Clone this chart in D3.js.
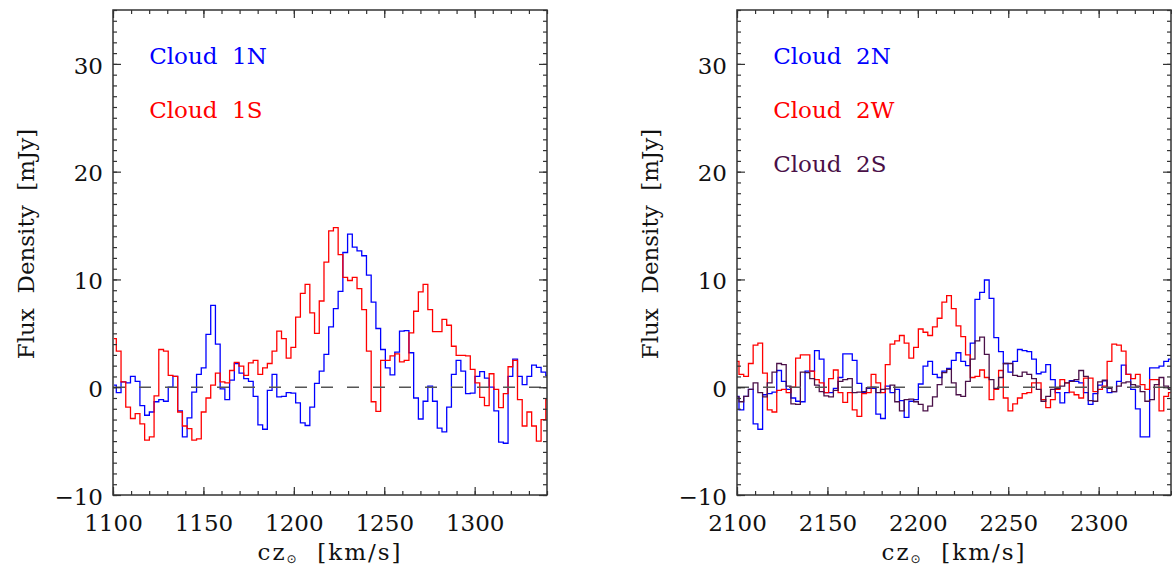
<!DOCTYPE html>
<html>
<head>
<meta charset="utf-8">
<script src="https://cdn.jsdelivr.net/npm/d3@7"></script>
<style>
  body { margin: 0; background: #fff; }
  svg { display: block; }
</style>
</head>
<body>
<svg id="chart" width="1172" height="573"></svg>
<script>
// channel spacing of the spectra (km/s) and first channel centre per panel
const chanWidth = 2.61;
const start1 = 1100.53;
const start2 = 2099.8;

// flux density per channel [mJy]
const cloud1N = [0.2, -0.5, 0.5, 0.4, 1.0, 0.55, -1.7, -2.6, -2.3, -1.35, -1.15, -1.3, 0.0, 1.0, -2.2, -4.6,
  -2.85, -0.45, 1.2, 1.8, 4.9, 7.6, 4.0, -0.15, -1.15, 0.65, 2.2, 1.3, 0.8, 0.55, -0.85, -3.5,
  -3.9, -0.3, 1.2, -0.9, -0.85, -0.5, -0.55, -1.45, -3.3, -3.55, -1.85, 0.35, 1.5, 3.05, 5.6, 7.3,
  8.9, 12.5, 14.2, 13.0, 12.65, 12.2, 10.4, 7.9, 5.45, 3.5, 1.8, 1.15, 3.25, 5.2, 5.25, 3.2,
  -1.0, -2.95, -1.3, 0.1, -1.3, -3.8, -4.15, -1.85, 1.2, 2.5, 1.5, -0.6, -0.55, 1.0, 1.45, 0.85,
  0.0, -2.2, -5.1, -5.2, 1.0, 2.6, 1.0, 0.25, 1.0, 2.05, 1.85, 1.4, 1.1];
const cloud1S = [4.5, 3.35, 0.5, -1.85, -2.9, -2.45, -3.4, -4.9, -4.6, -0.8, 3.5, 3.35, 1.1, 1.0, -2.3, -3.6,
  -3.85, -4.9, -4.8, -2.3, -1.0, 0.2, 1.3, 0.5, 0.4, 1.55, 2.3, 1.95, 1.1, 2.25, 2.5, 1.2,
  1.8, 2.2, 3.35, 5.2, 4.5, 2.7, 3.7, 6.5, 8.7, 9.55, 6.9, 5.0, 8.0, 11.6, 14.5, 14.8,
  12.3, 10.2, 9.9, 10.2, 9.15, 7.2, 3.35, -1.35, -2.25, 2.5, 2.5, 2.9, 3.1, 2.35, 2.5, 5.05,
  7.05, 8.85, 9.55, 7.2, 5.15, 5.15, 6.3, 5.75, 3.8, 2.95, 2.95, 2.9, 1.65, 0.4, -0.95, -1.7,
  1.25, -0.2, -1.9, -0.6, 1.9, 2.5, -1.15, -3.6, -2.3, -3.6, -5.0, -3.0, -1.15];
const cloud2N = [-0.85, -2.1, -0.85, -0.2, -3.4, -3.9, -0.7, -0.6, -0.45, 1.55, 0.55, -0.2, -1.0, -1.3, -1.35, 1.5,
  1.5, 3.4, 2.6, -0.5, -0.5, -0.1, 0.9, 3.1, 3.1, 2.5, 0.35, -0.5, -0.1, -0.1, -2.5, -2.9,
  0.1, -0.5, -0.2, -1.25, -2.8, -1.3, -1.15, 0.3, 1.95, 2.4, 1.2, 0.9, 1.5, 1.75, 2.5, 3.2,
  2.4, 2.0, 4.1, 8.15, 8.8, 9.95, 8.25, 4.6, 3.3, 2.2, 1.4, 2.4, 3.5, 3.4, 3.3, 2.6,
  1.25, 1.4, 2.1, 0.7, -0.5, -1.45, -0.5, 0.6, 0.55, 0.4, -0.5, -1.6, -0.6, 0.2, 0.6, -0.5,
  -0.4, 0.55, 2.05, 1.2, -0.2, -2.0, -4.6, -4.6, 1.8, 1.8, 1.95, 2.4, 2.6];
const cloud2W = [2.4, 1.2, 1.0, 2.2, 3.9, 4.1, 1.3, -2.1, -2.3, -0.3, -0.2, -0.5, 0.0, 2.7, 3.0, 3.0,
  1.5, 0.7, 0.4, -0.5, 0.8, 1.6, -0.5, -1.4, -0.5, -2.1, -2.7, -0.6, -0.5, 1.2, 0.4, -0.5,
  2.1, 4.0, 4.3, 4.8, 4.1, 2.7, 3.7, 5.4, 5.1, 4.8, 5.6, 6.4, 7.9, 8.5, 7.3, 5.7,
  4.7, 3.0, 0.9, 1.0, 1.6, 0.9, -1.15, -0.2, 1.55, -1.0, -2.2, -1.55, -1.0, -0.6, -0.5, 0.4,
  0.4, -1.15, -1.9, -1.15, -0.2, 0.7, 0.4, -0.45, -0.7, -1.0, 0.85, 0.85, -0.4, -0.2, 0.1, 2.4,
  4.0, 3.9, 3.35, 1.2, 0.8, 1.2, 0.25, -0.2, 0.7, 0.7, -2.2, -0.85, -0.5];
const cloud2S = [-0.9, -1.35, -0.85, -0.2, 0.4, -0.5, -0.9, 0.4, 1.4, 2.2, 2.1, 0.1, -1.55, -1.6, 1.4, 1.35,
  0.8, 0.2, -0.4, -0.8, -0.9, -0.3, 0.55, 0.7, 0.8, -0.5, -0.45, -0.4, -0.05, 0.0, -0.5, -0.2,
  -0.15, 0.2, -1.35, -2.2, -1.15, -1.1, -1.35, -1.6, -2.2, -1.75, -0.9, 0.25, 1.35, 1.65, 0.4, -0.7,
  -0.85, 0.55, 2.6, 4.3, 4.65, 3.05, 0.7, -0.1, 0.9, 2.2, 2.2, 1.1, 1.0, 1.4, 1.2, 0.8,
  -0.2, -1.3, -0.85, -0.2, -0.1, 0.1, 0.4, 0.55, 0.7, 1.55, 1.0, -1.25, -1.3, 0.5, 0.65, -0.1,
  -0.4, 0.1, 0.4, 0.5, 0.25, 0.1, -0.4, -1.3, -1.15, 0.25, 0.9, 0.1, -0.2];

// axis ranges and tick labels
const xRange1 = [1100, 1340];
const xRange2 = [2100, 2340];
const xTicks1 = [1100, 1150, 1200, 1250, 1300];
const xTicks2 = [2100, 2150, 2200, 2250, 2300];
const yRange = [-10, 35];
const yTicks = [-10, 0, 10, 20, 30];

const panels = [
  { left: 113, xDomain: xRange1, xTicks: xTicks1, start: start1,
    series: [
      { label: "Cloud  1N", color: "#0000ff", values: cloud1N },
      { label: "Cloud  1S", color: "#ff0000", values: cloud1S }
    ] },
  { left: 737, xDomain: xRange2, xTicks: xTicks2, start: start2,
    series: [
      { label: "Cloud  2N", color: "#0000ff", values: cloud2N },
      { label: "Cloud  2W", color: "#ff0000", values: cloud2W },
      { label: "Cloud  2S", color: "#4a1048", values: cloud2S }
    ] }
];

const plotW = 434, plotTop = 10, plotBottom = 495;
const serif = "'DejaVu Serif', serif";
const fontSize = 23;
const axisColor = "#333";

const svg = d3.select("#chart");
const y = d3.scaleLinear().domain(yRange).range([plotBottom, plotTop]);

function styleAxis(sel) {
  sel.select(".domain").remove();
  sel.selectAll("line").attr("stroke", axisColor).attr("stroke-width", 1.2);
  sel.selectAll("text")
    .attr("font-family", serif)
    .attr("font-size", fontSize)
    .attr("fill", "#111");
}

panels.forEach((p, pi) => {
  const x = d3.scaleLinear().domain(p.xDomain).range([p.left, p.left + plotW]);
  const g = svg.append("g");

  svg.append("clipPath").attr("id", "clip" + pi)
    .append("rect")
    .attr("x", p.left).attr("y", plotTop)
    .attr("width", plotW).attr("height", plotBottom - plotTop);

  // spectra as histograms
  const line = d3.line()
    .x((d, i) => x(p.start + i * chanWidth))
    .y(d => y(d))
    .curve(d3.curveStep);

  p.series.forEach(s => {
    g.append("path")
      .attr("clip-path", `url(#clip${pi})`)
      .attr("d", line(s.values))
      .attr("fill", "none")
      .attr("stroke", s.color)
      .attr("stroke-width", 1.3);
  });

  // zero level
  g.append("line")
    .attr("x1", p.left).attr("x2", p.left + plotW)
    .attr("y1", y(0)).attr("y2", y(0))
    .attr("stroke", "#555")
    .attr("stroke-width", 1.5)
    .attr("stroke-dasharray", "12,14");

  // legend
  p.series.forEach((s, i) => {
    g.append("text")
      .attr("x", x(p.xDomain[0] + 20))
      .attr("y", y(30 - 5 * i))
      .attr("font-family", serif)
      .attr("font-size", fontSize)
      .attr("fill", s.color)
      .style("white-space", "pre")
      .text(s.label);
  });

  // axes, ticks inward on every side
  const minorX = d3.range(p.xDomain[0], p.xDomain[1] + 1, 10);
  const minorY = d3.range(yRange[0], yRange[1] + 1, 1);

  g.append("g").attr("transform", `translate(0,${plotBottom})`)
    .call(d3.axisBottom(x).tickValues(minorX).tickSize(-4).tickFormat(""))
    .call(styleAxis);
  g.append("g").attr("transform", `translate(0,${plotBottom})`)
    .call(d3.axisBottom(x).tickValues(p.xTicks).tickSize(-8).tickPadding(20).tickFormat(d3.format("d")))
    .call(styleAxis);
  g.append("g").attr("transform", `translate(0,${plotTop})`)
    .call(d3.axisTop(x).tickValues(minorX).tickSize(-4).tickFormat(""))
    .call(styleAxis);
  g.append("g").attr("transform", `translate(0,${plotTop})`)
    .call(d3.axisTop(x).tickValues(p.xTicks).tickSize(-8).tickFormat(""))
    .call(styleAxis);

  g.append("g").attr("transform", `translate(${p.left},0)`)
    .call(d3.axisLeft(y).tickValues(minorY).tickSize(-4).tickFormat(""))
    .call(styleAxis);
  g.append("g").attr("transform", `translate(${p.left},0)`)
    .call(d3.axisLeft(y).tickValues(yTicks).tickSize(-8).tickPadding(10).tickFormat(d3.format("d")))
    .call(styleAxis)
    .selectAll("text").attr("dy", "0.4em");
  g.append("g").attr("transform", `translate(${p.left + plotW},0)`)
    .call(d3.axisRight(y).tickValues(minorY).tickSize(-4).tickFormat(""))
    .call(styleAxis);
  g.append("g").attr("transform", `translate(${p.left + plotW},0)`)
    .call(d3.axisRight(y).tickValues(yTicks).tickSize(-8).tickFormat(""))
    .call(styleAxis);

  g.append("rect")
    .attr("x", p.left).attr("y", plotTop)
    .attr("width", plotW).attr("height", plotBottom - plotTop)
    .attr("fill", "none")
    .attr("stroke", axisColor)
    .attr("stroke-width", 1.5);

  // axis titles
  g.append("text")
    .attr("transform", `translate(${p.left - 79},244) rotate(-90)`)
    .attr("text-anchor", "middle")
    .attr("font-family", serif)
    .attr("font-size", fontSize)
    .attr("fill", "#111")
    .style("white-space", "pre")
    .text("Flux  Density  [mJy]");

  const xt = g.append("text")
    .attr("x", p.left + plotW / 2)
    .attr("y", 560)
    .attr("text-anchor", "middle")
    .attr("font-family", serif)
    .attr("font-size", fontSize)
    .attr("letter-spacing", 2)
    .attr("fill", "#111")
    .style("white-space", "pre");
  xt.append("tspan").text("cz");
  xt.append("tspan").attr("dy", 3).attr("font-size", 12)
    .attr("font-family", "'DejaVu Sans', sans-serif").text("\u2299");
  xt.append("tspan").attr("dy", -3).text("  [km/s]");
});
</script>
</body>
</html>
